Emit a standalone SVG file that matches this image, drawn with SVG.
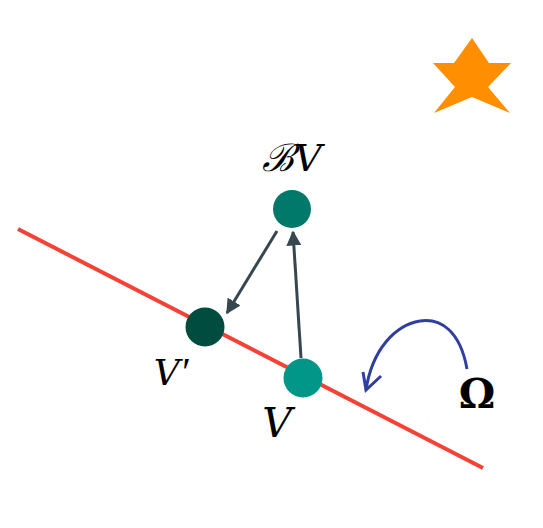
<svg xmlns="http://www.w3.org/2000/svg" width="543" height="528" viewBox="0 0 543 528">
<style>
.lbl{font-family:"DejaVu Serif",serif;font-style:italic;fill:#000}
.conn{stroke:#37474f;stroke-width:3;fill:none}
</style>
<defs>
<marker id="ah" viewBox="0 0 10 10" refX="9" refY="5" markerWidth="5" markerHeight="5" orient="auto" markerUnits="strokeWidth">
<path d="M0,0 L10,5 L0,10 z" fill="#37474f"/>
</marker>
</defs>
<rect width="543" height="528" fill="#fff"/>
<g id="line">
<line x1="18" y1="229" x2="483" y2="468" stroke="#f44336" stroke-width="4"/>
</g>
<g id="star">
<polygon points="472,38 489,63 511,63 488,87 510,113 472,97 434,113 455,87 433,63 454,63" fill="#ff8f00"/>
</g>
<g id="connectors">
<line class="conn" x1="277" y1="231" x2="227" y2="313" marker-end="url(#ah)"/>
<line class="conn" x1="301" y1="358" x2="293" y2="232" marker-end="url(#ah)"/>
<path d="M467,369 C460,330 440,318 420,321 C395,325 372,350 366,390" stroke="#303f9f" stroke-width="3" fill="none"/>
<path d="M363,372 L366,390 L381,376" stroke="#303f9f" stroke-width="3" fill="none"/>
</g>
<g id="node-BV">
<circle cx="292" cy="209" r="19" fill="#00796b"/>
<text class="lbl" x="292" y="171" font-size="38" text-anchor="middle">ℬV</text>
</g>
<g id="node-Vp">
<circle cx="205" cy="327" r="19.5" fill="#004d40"/>
<text class="lbl" x="171" y="385" font-size="36" text-anchor="middle">V<tspan font-family="Liberation Serif,serif" font-size="40">′</tspan></text>
</g>
<g id="node-V">
<circle cx="303" cy="378" r="19.5" fill="#009688"/>
<text class="lbl" x="277" y="437" font-size="41" text-anchor="middle">V</text>
</g>
<g id="omega">
<text x="477" y="408" font-family="DejaVu Serif,serif" font-weight="bold" font-size="41" text-anchor="middle">Ω</text>
</g>
</svg>
